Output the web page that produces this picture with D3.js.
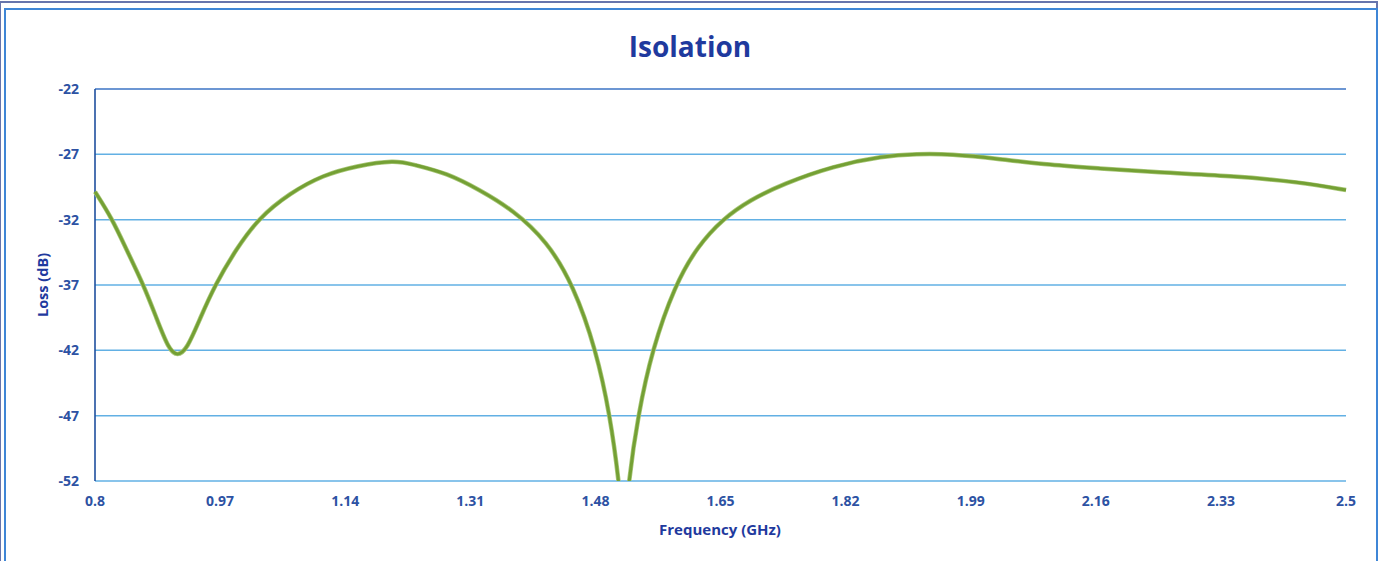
<!DOCTYPE html>
<html>
<head>
<meta charset="utf-8">
<script src="https://cdn.jsdelivr.net/npm/d3@7"></script>
<style>
  body { margin: 0; background: #fff; }
  svg { display: block; font-family: 'Open Sans', sans-serif; }
</style>
</head>
<body>
<div id="chart"></div>
<script>
let width = 1384,
  height = 561

// frequency in GHz, isolation in dB
let freq = [0.8, 0.823, 0.843, 0.866, 0.883, 0.9, 0.912, 0.925, 0.943, 0.963, 0.992, 1.022, 1.065, 1.11,
  1.155, 1.208, 1.232, 1.278, 1.323, 1.368, 1.414, 1.45, 1.481, 1.5, 1.512, 1.519, 1.525, 1.538,
  1.557, 1.588, 1.619, 1.653, 1.69, 1.735, 1.803, 1.871, 1.917, 1.962, 2.03, 2.098, 2.166, 2.234,
  2.346, 2.437, 2.5]
let loss = [-29.86, -31.9, -34.32, -37.0, -39.45, -41.92, -42.45, -41.92, -39.53, -37.0, -34.24, -31.9, -29.96, -28.58,
  -27.89, -27.43, -27.78, -28.43, -29.73, -31.26, -33.63, -37.0, -41.97, -47.02, -52.0, -56.5, -52.0, -46.95,
  -41.97, -37.0, -34.02, -31.95, -30.49, -29.27, -27.89, -27.13, -26.97, -26.97, -27.36, -27.82, -28.08, -28.35,
  -28.66, -29.12, -29.73]

let xTicks = [0.8, 0.97, 1.14, 1.31, 1.48, 1.65, 1.82, 1.99, 2.16, 2.33, 2.5]
let yTicks = [-22, -27, -32, -37, -42, -47, -52]

let margin = { top: 89, right: 38, bottom: 80, left: 95 }

let svg = d3.select('#chart').append('svg')
  .attr('width', width)
  .attr('height', height)

// frames
svg.append('rect')
  .attr('x', 0).attr('y', 2)
  .attr('width', 1377).attr('height', 600)
  .attr('fill', 'none')
  .attr('stroke', '#6675ad')
  .attr('stroke-width', 2)

svg.append('rect')
  .attr('x', 5).attr('y', 9)
  .attr('width', 1372).attr('height', 600)
  .attr('fill', '#fff')
  .attr('stroke', '#3f86d6')
  .attr('stroke-width', 2)

let x = d3.scaleLinear()
  .domain([0.8, 2.5])
  .range([margin.left, width - margin.right])

let y = d3.scaleLinear()
  .domain([-52, -22])
  .range([height - margin.bottom, margin.top])

// grid lines
svg.append('g')
  .selectAll('line')
  .data(yTicks)
  .enter().append('line')
  .attr('x1', x(0.8))
  .attr('x2', x(2.5))
  .attr('y1', d => y(d))
  .attr('y2', d => y(d))
  .attr('stroke', d => d === -22 ? '#3b73c4' : '#62b0e4')
  .attr('stroke-width', 1.5)

// left axis line
svg.append('line')
  .attr('x1', x(0.8)).attr('x2', x(0.8))
  .attr('y1', y(-22)).attr('y2', y(-52))
  .attr('stroke', '#1f4f9e')
  .attr('stroke-width', 1.6)

// y tick labels
svg.append('g')
  .selectAll('text')
  .data(yTicks)
  .enter().append('text')
  .attr('x', 79)
  .attr('y', d => y(d) + 5)
  .attr('text-anchor', 'end')
  .attr('font-size', 14)
  .attr('font-weight', 700)
  .attr('fill', '#2d52a3')
  .text(d => d)

// x tick labels
svg.append('g')
  .selectAll('text')
  .data(xTicks)
  .enter().append('text')
  .attr('x', d => x(d))
  .attr('y', 506)
  .attr('text-anchor', 'middle')
  .attr('font-size', 14)
  .attr('font-weight', 700)
  .attr('fill', '#2d52a3')
  .text(d => d)

// clip for the curve
svg.append('clipPath').attr('id', 'plot-clip')
  .append('rect')
  .attr('x', x(0.8) - 3)
  .attr('y', y(-22) - 3)
  .attr('width', x(2.5) - x(0.8) + 6)
  .attr('height', y(-52) - y(-22) + 3)

let line = d3.line()
  .x((d, i) => x(freq[i]))
  .y(d => y(d))
  .curve(d3.curveBasis)

svg.append('path')
  .datum(loss)
  .attr('clip-path', 'url(#plot-clip)')
  .attr('d', line)
  .attr('fill', 'none')
  .attr('stroke', '#a9c77a')
  .attr('stroke-width', 4.5)
  .attr('stroke-linejoin', 'round')

svg.append('path')
  .datum(loss)
  .attr('clip-path', 'url(#plot-clip)')
  .attr('d', line)
  .attr('fill', 'none')
  .attr('stroke', '#74a034')
  .attr('stroke-width', 3)
  .attr('stroke-linejoin', 'round')

// title
svg.append('text')
  .attr('x', 690)
  .attr('y', 57)
  .attr('text-anchor', 'middle')
  .attr('font-size', 28)
  .attr('font-weight', 700)
  .attr('fill', '#1f3a9e')
  .text('Isolation')

// axis titles
svg.append('text')
  .attr('x', 720)
  .attr('y', 535)
  .attr('text-anchor', 'middle')
  .attr('font-size', 15)
  .attr('font-weight', 700)
  .attr('fill', '#1f3a9e')
  .text('Frequency (GHz)')

svg.append('text')
  .attr('transform', 'translate(48,' + y(-37) + ') rotate(-90)')
  .attr('text-anchor', 'middle')
  .attr('font-size', 14.5)
  .attr('font-weight', 700)
  .attr('fill', '#1f3a9e')
  .text('Loss (dB)')
</script>
</body>
</html>
